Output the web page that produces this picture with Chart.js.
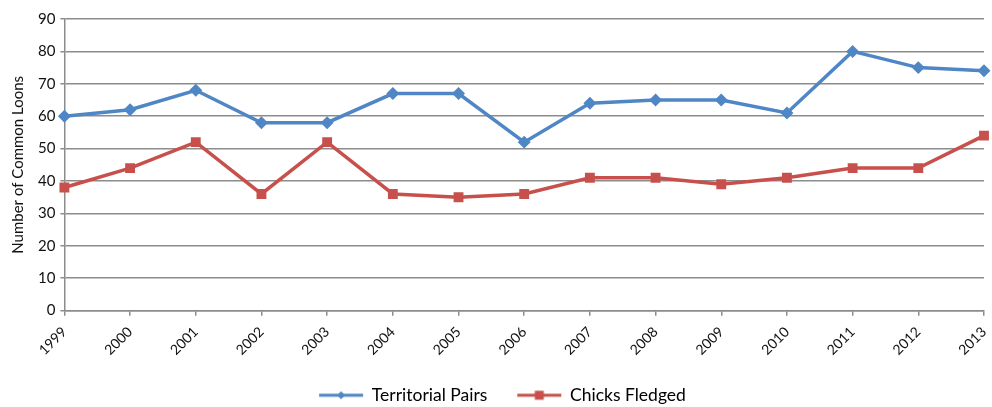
<!DOCTYPE html>
<html lang="en">
<head>
  <meta charset="UTF-8">
  <title>Common Loons</title>
  <script src="https://cdn.jsdelivr.net/npm/chart.js"></script>
  <style>
    html, body {
      margin: 0;
      padding: 0;
      background: #fff;
    }
    .chart-container {
      position: relative;
      width: 992px;
      height: 407px;
    }
  </style>
</head>
<body>
  <div class="chart-container">
    <canvas id="loon-chart"></canvas>
  </div>

  <script>
    // Values
    const years = ['1999', '2000', '2001', '2002', '2003', '2004', '2005', '2006', '2007', '2008', '2009', '2010', '2011', '2012', '2013'];
    const territorialPairs = [60, 62, 68, 58, 58, 67, 67, 52, 64, 65, 65, 61, 80, 75, 74];
    const chicksFledged = [38, 44, 52, 36, 52, 36, 35, 36, 41, 41, 39, 41, 44, 44, 54];

    const blue = '#4f86c6';
    const red = '#c8504c';
    const gridGrey = '#8c8c8c';

    // line+marker image for the legend; left part is blank to leave a gap between the two items
    function legendIcon(color, shape) {
      const c = document.createElement('canvas');
      c.width = 62;
      c.height = 12;
      const g = c.getContext('2d');
      g.strokeStyle = color;
      g.lineWidth = 3;
      g.beginPath();
      g.moveTo(14, 6);
      g.lineTo(58, 6);
      g.stroke();
      g.fillStyle = color;
      if (shape === 'rect') {
        g.fillRect(31.5, 1.5, 9, 9);
      } else {
        g.beginPath();
        g.moveTo(36, 2);
        g.lineTo(40, 6);
        g.lineTo(36, 10);
        g.lineTo(32, 6);
        g.closePath();
        g.fill();
      }
      return c;
    }
    const icons = [legendIcon(blue, 'rectRot'), legendIcon(red, 'rect')];

    const ctx = document.getElementById('loon-chart').getContext('2d');
    new Chart(ctx, {
      type: 'line',
      data: {
        labels: years,
        datasets: [{
          label: 'Territorial Pairs',
          data: territorialPairs,
          borderColor: blue,
          backgroundColor: blue,
          borderWidth: 3.5,
          pointStyle: 'rectRot',
          pointRadius: 4,
          tension: 0,
          fill: false
        }, {
          label: 'Chicks Fledged',
          data: chicksFledged,
          borderColor: red,
          backgroundColor: red,
          borderWidth: 3.5,
          pointStyle: 'rect',
          pointRadius: 4.5,
          tension: 0,
          fill: false
        }]
      },
      options: {
        responsive: true,
        maintainAspectRatio: false,
        animation: false,
        layout: {
          padding: { top: 19, right: 6, left: 9, bottom: -7 }
        },
        plugins: {
          tooltip: { enabled: false },
          legend: {
            position: 'bottom',
            labels: {
              usePointStyle: true,
              pointStyleWidth: 54,
              color: '#111',
              padding: 20,
              font: { family: 'Lato', size: 17.5 },
              generateLabels: function (chart) {
                return chart.data.datasets.map(function (ds, i) {
                  return {
                    text: ds.label,
                    pointStyle: icons[i],
                    fillStyle: ds.borderColor,
                    strokeStyle: ds.borderColor,
                    lineWidth: 0,
                    hidden: false,
                    datasetIndex: i
                  };
                });
              }
            }
          }
        },
        scales: {
          x: {
            offset: false,
            afterFit: function (scale) {
              // the rotated labels run up-left, no room needed on the right
              scale.paddingRight = 0;
            },
            grid: {
              display: true,
              drawOnChartArea: false,
              drawTicks: true,
              tickLength: 5,
              color: gridGrey,
              lineWidth: 1.5
            },
            border: { color: gridGrey, width: 1.5 },
            ticks: {
              minRotation: 45,
              maxRotation: 45,
              color: '#111',
              padding: 8,
              font: { family: 'Lato', size: 14 }
            }
          },
          y: {
            min: 0,
            max: 90,
            ticks: {
              stepSize: 10,
              color: '#111',
              padding: 5,
              font: { family: 'Lato', size: 15 }
            },
            grid: {
              color: gridGrey,
              lineWidth: 1.5,
              tickLength: 4
            },
            border: { color: gridGrey, width: 1.5 },
            title: {
              display: true,
              text: 'Number of Common Loons',
              color: '#111',
              padding: { top: 0, bottom: 6 },
              font: { family: 'Lato', size: 15 }
            }
          }
        }
      }
    });
  </script>
</body>
</html>
